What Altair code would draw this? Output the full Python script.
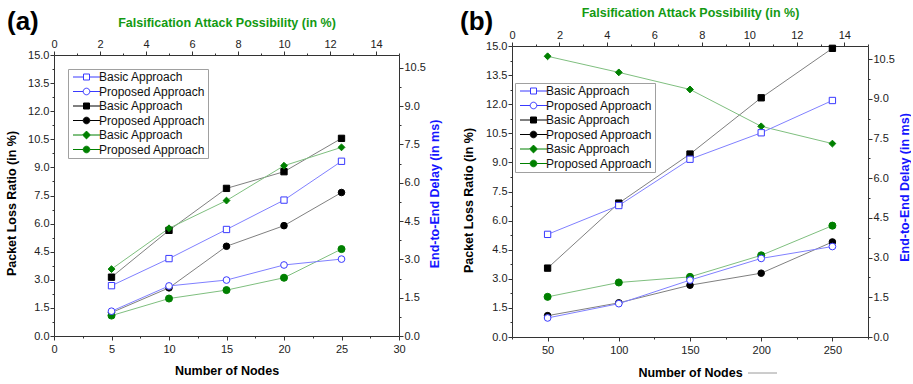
import altair as alt
import pandas as pd

# ---------------- data ----------------
nodes_a = [5, 10, 15, 20, 25]
a_delay_basic = [1.97, 3.03, 4.17, 5.32, 6.84]        # ms (right axis), blue squares
a_delay_proposed = [0.97, 1.96, 2.19, 2.78, 3.01]     # ms (right axis), blue circles
a_plr_basic = [3.14, 5.64, 7.88, 8.77, 10.55]         # black squares
a_plr_proposed = [1.25, 2.57, 4.79, 5.89, 7.66]       # black circles
a_fap_basic = [3.57, 5.75, 7.23, 9.09, 10.07]         # green diamonds
a_fap_proposed = [1.09, 2.00, 2.45, 3.11, 4.64]       # green circles

nodes_b = [50, 100, 150, 200, 250]
b_delay_basic = [3.88, 4.97, 6.72, 7.72, 8.94]
b_delay_proposed = [0.72, 1.26, 2.15, 2.97, 3.42]
b_plr_basic = [3.55, 6.90, 9.43, 12.33, 14.88]
b_plr_proposed = [1.10, 1.76, 2.67, 3.29, 4.90]
b_fap_basic = [14.47, 13.64, 12.76, 10.86, 9.97]
b_fap_proposed = [2.07, 2.81, 3.10, 4.21, 5.74]

legend_keys = ["k1", "k2", "k3", "k4", "k5", "k6"]
legend_labels = ["Basic Approach", "Proposed Approach"] * 3

FONT = "Liberation Sans"
LINE_COLORS = ["#8080ff", "#8080ff", "#808080", "#808080", "#7fbf7f", "#7fbf7f"]
MARK_STROKE = ["#3a3aff", "#3a3aff", "#000000", "#000000", "#008000", "#008000"]
MARK_FILL = ["#ffffff", "#ffffff", "#000000", "#000000", "#008000", "#008000"]
SHAPES = ["square", "circle", "square", "circle", "diamond", "circle"]
SIZES = [40, 45, 40, 50, 55, 50]
LEG_PATHS = [
    "M-4.5,0H-1M1,0H4.5M-1,-1H1V1H-1Z",
    "M-4.5,0H-1.1M1.1,0H4.5M-1.1,0A1.1,1.1 0 1,1 1.1,0A1.1,1.1 0 1,1 -1.1,0Z",
    "M-4.5,0H-1M1,0H4.5M-1,-1H1V1H-1Z",
    "M-4.5,0H-1.1M1.1,0H4.5M-1.1,0A1.1,1.1 0 1,1 1.1,0A1.1,1.1 0 1,1 -1.1,0Z",
    "M-4.5,0H-1.3M1.3,0H4.5M0,-1.3L1.3,0L0,1.3L-1.3,0Z",
    "M-4.5,0H-1.1M1.1,0H4.5M-1.1,0A1.1,1.1 0 1,1 1.1,0A1.1,1.1 0 1,1 -1.1,0Z",
]

# overall drawing area (both panels share one view; each panel owns a part of it)
W, H = 814, 291


def frange(a, b, step):
    out, v = [], a
    while v <= b + 1e-9:
        out.append(round(v, 4))
        v += step
    return out


def make_axis(orient, values, test, fmt, title, title_color, **kw):
    return alt.Axis(
        orient=orient,
        values=values,
        labelExpr=f"({test}) ? format(datum.value, '{fmt}') : ''",
        tickSize={"condition": {"test": test, "value": 4}, "value": 2},
        labelOverlap=False,
        labelFlush=False,
        grid=False,
        title=title,
        titleColor=title_color,
        titleBaseline="middle",
        **kw,
    )


def series_df(nodes, series):
    rows = []
    for key, vals in series:
        for n, v in zip(nodes, vals):
            rows.append({"n": n, "v": v, "key": key})
    return pd.DataFrame(rows)


def panel(tag, nodes, left_series, right_series, xdom, xstep, xmajor,
          xrange, yrange, offs, leg_xy, tag_xy,
          left_title_xy, right_title_xy, bottom_title_y, top_title_y):
    TEST15 = "abs(datum.value/1.5 - round(datum.value/1.5)) < 0.001"
    bottom_axis = make_axis("bottom", frange(xdom[0], xdom[1], xstep),
                            f"abs(datum.value % {xmajor}) < 0.001", "d",
                            "Number of Nodes", "black", titleY=bottom_title_y,
                            labelPadding=3, offset=offs["bottom"])
    left_axis = make_axis("left", frange(0, 15, 0.75), TEST15, ".1f",
                          "Packet Loss Ratio (in %)", "black",
                          titleAngle=270, titleX=left_title_xy[0], titleY=left_title_xy[1],
                          labelPadding=1, offset=offs["left"])
    right_axis = make_axis("right", frange(0, 10.5, 0.75), TEST15, ".1f",
                           "End-to-End Delay (in ms)", "#1414ff",
                           titleAngle=270, titleX=right_title_xy[0], titleY=right_title_xy[1],
                           labelPadding=1, offset=offs["right"])
    top_axis = make_axis("top", frange(0, 15, 1), "datum.value % 2 == 0", "d",
                         "Falsification Attack Possibility (in %)", "#139a13",
                         titleY=top_title_y, labelPadding=2, offset=offs["top"])

    lkeys = [k for k, _ in left_series]
    rkeys = [k for k, _ in right_series]

    def sub(df, keys, ydom, yaxis, xaxis):
        idx = [legend_keys.index(k) for k in keys]
        base = alt.Chart(df).encode(
            x=alt.X("n:Q", scale=alt.Scale(domain=xdom, range=xrange, nice=False, zero=False), axis=xaxis),
            y=alt.Y("v:Q", scale=alt.Scale(domain=ydom, range=yrange, nice=False, zero=True), axis=yaxis),
        )
        lines = base.mark_line(strokeWidth=1).encode(
            color=alt.Color("key:N", scale=alt.Scale(domain=keys, range=[LINE_COLORS[i] for i in idx]), legend=None)
        )
        pts = base.mark_point(opacity=1, strokeWidth=1, filled=False).encode(
            shape=alt.Shape("key:N", scale=alt.Scale(domain=keys, range=[SHAPES[i] for i in idx]), legend=None),
            stroke=alt.Stroke("key:N", scale=alt.Scale(domain=keys, range=[MARK_STROKE[i] for i in idx]), legend=None),
            fill=alt.Fill("key:N", scale=alt.Scale(domain=keys, range=[MARK_FILL[i] for i in idx]), legend=None),
            size=alt.Size("key:N", scale=alt.Scale(domain=keys, range=[SIZES[i] for i in idx]), legend=None),
        )
        return alt.layer(lines, pts)

    left = sub(series_df(nodes, left_series), lkeys, [0, 15], left_axis, bottom_axis)
    right = sub(series_df(nodes, right_series), rkeys, [0, 11], right_axis, None)

    top = alt.Chart(pd.DataFrame({"t": [0, 15]})).mark_point(opacity=0).encode(
        x=alt.X("t:Q", scale=alt.Scale(domain=[0, 15], range=xrange, nice=False), axis=top_axis)
    )

    leg = alt.Legend(
        orient="none", legendX=leg_xy[0], legendY=leg_xy[1], title=None,
        symbolSize=36, symbolOffset=10.5, labelOffset=6.5, symbolStrokeWidth=1,
        labelFont=FONT, labelFontSize=12, labelColor="#111111", rowPadding=2.5,
        padding=2, strokeColor="#a0a0a0", fillColor="white",
        labelExpr="indexof(['k1','k3','k5'], datum.label) >= 0 ? 'Basic Approach' : 'Proposed Approach'",
    )
    legend_layer = alt.Chart(pd.DataFrame({"key": legend_keys, "lab": legend_labels})).mark_point(
        opacity=1, filled=False
    ).encode(
        shape=alt.Shape("key:N", scale=alt.Scale(domain=legend_keys, range=LEG_PATHS), legend=leg),
        stroke=alt.Stroke("key:N", scale=alt.Scale(domain=legend_keys, range=MARK_STROKE), legend=leg),
        fill=alt.Fill("key:N", scale=alt.Scale(domain=legend_keys, range=MARK_FILL), legend=leg),
    ).transform_filter("false")

    tag_layer = alt.Chart(pd.DataFrame({"t": [tag]})).mark_text(
        font=FONT, fontSize=26, fontWeight="bold", align="left", baseline="top", color="black"
    ).encode(x=alt.value(tag_xy[0]), y=alt.value(tag_xy[1]), text="t:N")

    return [left, right, top, legend_layer, tag_layer]


layers_a = panel("(a)", nodes_a,
                 [("k3", a_plr_basic), ("k4", a_plr_proposed), ("k5", a_fap_basic), ("k6", a_fap_proposed)],
                 [("k1", a_delay_basic), ("k2", a_delay_proposed)],
                 [0, 30], 2.5, 5,
                 xrange=[0, 345], yrange=[290, 9],
                 offs={"bottom": -1, "left": 0, "right": 345 - W, "top": -9},
                 leg_xy=(14, 23), tag_xy=(-47, -37),
                 left_title_xy=(-43, 157), right_title_xy=(35, 147.5),
                 bottom_title_y=34, top_title_y=-33)

layers_b = panel("(b)", nodes_b,
                 [("k3", b_plr_basic), ("k4", b_plr_proposed), ("k5", b_fap_basic), ("k6", b_fap_proposed)],
                 [("k1", b_delay_basic), ("k2", b_delay_proposed)],
                 [25, 275], 25, 50,
                 xrange=[458, W], yrange=[H, 0],
                 offs={"bottom": 0, "left": -458, "right": 0, "top": 0},
                 leg_xy=(461, 37), tag_xy=(406, -37),
                 left_title_xy=(-44, 154), right_title_xy=(36, 141),
                 bottom_title_y=35, top_title_y=-34)

# small grey stroke that follows the "Number of Nodes" title of panel (b) in the reference
stray = alt.Chart(pd.DataFrame({"t": [0]})).mark_rule(color="#9a9a9a", strokeWidth=1).encode(
    x=alt.value(694), x2=alt.value(723), y=alt.value(327)
)

# invisible anchor fixing the top-left corner of the drawing
anchor = alt.Chart(pd.DataFrame({"t": ["."]})).mark_text(
    font=FONT, fontSize=8, align="left", baseline="top", opacity=0
).encode(x=alt.value(-54), y=alt.value(-46), text="t:N")

chart = alt.layer(*layers_a, *layers_b, stray, anchor).resolve_scale(
    x="independent", y="independent", color="independent", shape="independent",
    stroke="independent", fill="independent", size="independent",
).properties(
    width=W, height=H,
    padding={"left": 0, "top": 0, "right": 0, "bottom": 0},
    background="white",
).configure_view(stroke=None).configure_axis(
    domainColor="#333333", tickColor="#333333", domainWidth=1, tickWidth=1,
    labelFont=FONT, labelFontSize=11, labelColor="#222222",
    titleFont=FONT, titleFontSize=12.5, titleFontWeight="bold",
)

chart.save("out.html", embed_options={"renderer": "svg", "actions": False})
